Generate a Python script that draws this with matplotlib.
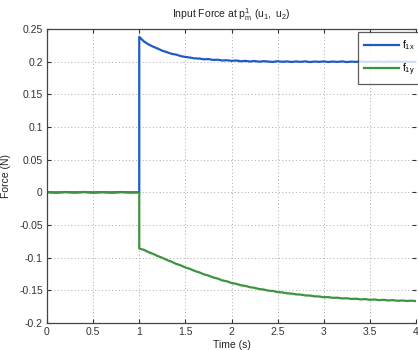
import matplotlib
matplotlib.use("Agg")
import matplotlib.pyplot as plt

plt.rcParams["font.family"] = ["Liberation Sans", "DejaVu Sans"]
plt.rcParams["mathtext.fontset"] = "custom"
plt.rcParams["mathtext.rm"] = "Liberation Sans"
plt.rcParams["mathtext.it"] = "Liberation Sans"

# ---- data ----
pre_t = [0.0, 0.1, 0.2, 0.3, 0.4, 0.5, 0.6, 0.7, 0.8, 0.9, 1.0]
pre_fx = [0.0004, -0.0003, 0.0005, -0.0002, 0.0004, -0.0004, 0.0003, -0.0002, 0.0005, -0.0003, 0.0]
pre_fy = [0.0002, -0.0005, 0.0004, -0.0003, 0.0006, -0.0002, 0.0004, -0.0005, 0.0003, 0.0001, 0.0]

post_t = [1.00, 1.05, 1.10, 1.15, 1.20, 1.25, 1.30, 1.35, 1.40, 1.45,
          1.50, 1.55, 1.60, 1.65, 1.70, 1.75, 1.80, 1.85, 1.90, 1.95,
          2.00, 2.05, 2.10, 2.15, 2.20, 2.25, 2.30, 2.35, 2.40, 2.45,
          2.50, 2.55, 2.60, 2.65, 2.70, 2.75, 2.80, 2.85, 2.90, 2.95,
          3.00, 3.05, 3.10, 3.15, 3.20, 3.25, 3.30, 3.35, 3.40, 3.45,
          3.50, 3.55, 3.60, 3.65, 3.70, 3.75, 3.80, 3.85, 3.90, 3.95, 4.00]
post_fx = [0.2380, 0.2310, 0.2265, 0.2230, 0.2200, 0.2168, 0.2145, 0.2120, 0.2108, 0.2085,
           0.2072, 0.2063, 0.2050, 0.2048, 0.2036, 0.2040, 0.2027, 0.2030, 0.2018, 0.2022,
           0.2012, 0.2018, 0.2006, 0.2012, 0.2003, 0.2010, 0.1999, 0.2008, 0.2001, 0.1996,
           0.2007, 0.1998, 0.2004, 0.1995, 0.2003, 0.1997, 0.2005, 0.1994, 0.2002, 0.1997,
           0.2004, 0.1995, 0.2002, 0.1996, 0.2004, 0.1994, 0.2001, 0.1997, 0.2003, 0.1995,
           0.2000, 0.1996, 0.2003, 0.1994, 0.2001, 0.1997, 0.2002, 0.1995, 0.2001, 0.1996, 0.1999]
post_fy = [-0.0860, -0.0880, -0.0915, -0.0942, -0.0975, -0.1002, -0.1035, -0.1062, -0.1095, -0.1118,
           -0.1150, -0.1172, -0.1203, -0.1225, -0.1255, -0.1274, -0.1302, -0.1320, -0.1348, -0.1362,
           -0.1388, -0.1400, -0.1422, -0.1432, -0.1452, -0.1462, -0.1480, -0.1488, -0.1505, -0.1510,
           -0.1527, -0.1532, -0.1545, -0.1550, -0.1562, -0.1565, -0.1578, -0.1580, -0.1592, -0.1594,
           -0.1605, -0.1604, -0.1615, -0.1613, -0.1624, -0.1621, -0.1632, -0.1628, -0.1639, -0.1634,
           -0.1645, -0.1640, -0.1650, -0.1645, -0.1655, -0.1650, -0.1660, -0.1655, -0.1663, -0.1658, -0.1665]

x_ticks = [0, 0.5, 1, 1.5, 2, 2.5, 3, 3.5, 4]
x_labels = ["0", "0.5", "1", "1.5", "2", "2.5", "3", "3.5", "4"]
y_ticks = [-0.2, -0.15, -0.1, -0.05, 0, 0.05, 0.1, 0.15, 0.2, 0.25]
y_labels = ["-0.2", "-0.15", "-0.1", "-0.05", "0", "0.05", "0.1", "0.15", "0.2", "0.25"]

t = pre_t + post_t
fx = pre_fx + post_fx
fy = pre_fy + post_fy

# ---- figure ----
fig = plt.figure(figsize=(4.18, 3.5), dpi=100)
fig.patch.set_facecolor("white")
ax = fig.add_axes([47 / 418, 1 - 323 / 350, 369 / 418, (323 - 29) / 350])

ax.plot(t, fx, color="#1d5cc4", lw=1.6, label=r"$\mathregular{f_{1x}}$")
ax.plot(t, fy, color="#3d9440", lw=1.6, label=r"$\mathregular{f_{1y}}$")

ax.set_xlim(0, 4)
ax.set_ylim(-0.2, 0.25)
ax.set_xticks(x_ticks)
ax.set_xticklabels(x_labels)
ax.set_yticks(y_ticks)
ax.set_yticklabels(y_labels)
ax.tick_params(direction="in", length=3, top=True, right=True, labelsize=7.5,
               colors="#333333", pad=3)
for s in ax.spines.values():
    s.set_color("#444444")
    s.set_linewidth(0.9)
ax.spines["right"].set_visible(False)
ax.grid(True, linestyle=(0, (1, 2.5)), color="#aaaaaa", linewidth=0.7)

ax.set_xlabel("Time (s)", fontsize=7.5, color="#222222", labelpad=2)
ax.set_ylabel("Force (N)", fontsize=7.5, color="#222222", labelpad=6)
ax.set_title(r"Input Force at $\mathregular{p_m^1\ (u_1,\ u_2)}$", fontsize=7.5,
             color="#222222", pad=8)

leg = ax.legend(loc="upper left", bbox_to_anchor=(358 / 418, 1 - 32 / 350),
                bbox_transform=fig.transFigure, fontsize=7.5, handlelength=3.3,
                frameon=True, fancybox=False, borderpad=0.6, labelspacing=0.9,
                handletextpad=0.3, borderaxespad=0)
leg.get_frame().set_edgecolor("#333333")
leg.get_frame().set_linewidth(0.9)

fig.savefig("out.png", dpi=100, facecolor="white")
